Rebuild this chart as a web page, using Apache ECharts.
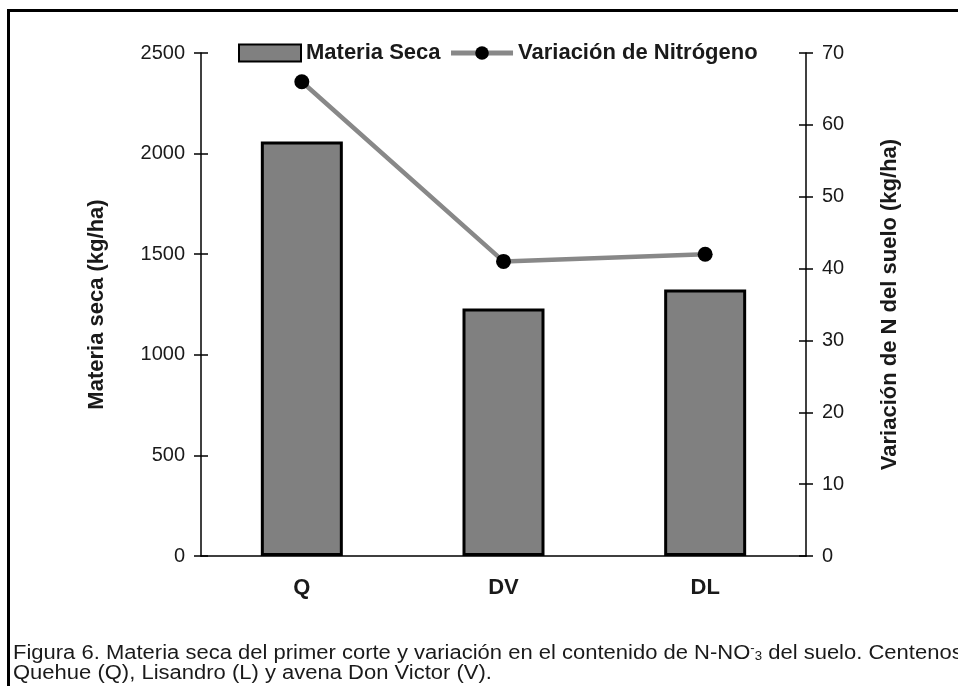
<!DOCTYPE html>
<html lang="es">
<head>
  <meta charset="utf-8">
  <title>Figura 6</title>
  <script src="https://cdn.jsdelivr.net/npm/echarts@6/dist/echarts.min.js"></script>
  <style>
    * { box-sizing: border-box; }
    html, body { margin: 0; padding: 0; background: #fff; }
    #chart { width: 958px; height: 686px; }
  </style>
</head>
<body>
  <div id="chart"></div>
  <script>
    // datos
    var categorias = ['Q', 'DV', 'DL'];
    var materiaSeca = [2060, 1230, 1325];      // kg/ha, eje izquierdo
    var variacionN = [66, 41, 42];            // kg/ha, eje derecho
    var ejeIzq = { min: 0, max: 2500, interval: 500 };
    var ejeDer = { min: 0, max: 70, interval: 10 };

    var FONT = '"Liberation Sans", Arial, sans-serif';
    var TXT = '#1a1a1a';

    // eje duplicado solo para las marcas hacia adentro (las marcas cruzan el eje)
    function ejeMarcasDentro(pos, rango) {
      return {
        type: 'value', position: pos, min: rango.min, max: rango.max, interval: rango.interval,
        axisLine: { show: false }, axisLabel: { show: false }, splitLine: { show: false },
        axisTick: { show: true, inside: true, length: 7, lineStyle: { color: '#000', width: 1.5 } }
      };
    }

    var chart = echarts.init(document.getElementById('chart'), null, { renderer: 'canvas' });
    chart.setOption({
      animation: false,
      backgroundColor: '#fff',
      textStyle: { fontFamily: FONT, color: TXT },
      grid: { left: 201, right: 152, top: 53, bottom: 130 },
      legend: {
        left: 233, top: 37,
        itemWidth: 62, itemHeight: 17, itemGap: 8,
        textStyle: { fontSize: 22, fontWeight: 'bold', color: TXT, fontFamily: FONT },
        data: [
          { name: 'Materia Seca', icon: 'rect' },
          { name: 'Variación de Nitrógeno', lineStyle: { width: 5, color: '#888' } }
        ]
      },
      xAxis: [{
        type: 'category', data: categorias,
        axisLine: { lineStyle: { color: '#000', width: 1.5 } },
        axisTick: { length: 7, lineStyle: { color: '#000', width: 1.5 } },
        axisLabel: { margin: 21, fontSize: 22, fontWeight: 'bold', color: TXT }
      }, {
        type: 'category', data: categorias, position: 'bottom',
        axisLine: { show: false }, axisLabel: { show: false },
        axisTick: { inside: true, length: 7, lineStyle: { color: '#000', width: 1.5 } }
      }],
      yAxis: [{
        type: 'value', position: 'left', min: ejeIzq.min, max: ejeIzq.max, interval: ejeIzq.interval,
        name: 'Materia seca (kg/ha)', nameLocation: 'middle', nameGap: 93,
        nameTextStyle: { fontSize: 22, fontWeight: 'bold', color: TXT },
        axisLine: { show: true, lineStyle: { color: '#000', width: 1.5 } },
        axisTick: { show: true, length: 7, lineStyle: { color: '#000', width: 1.5 } },
        axisLabel: { margin: 16, fontSize: 20, color: TXT, formatter: function (v) { return String(v); } },
        splitLine: { show: false }
      }, {
        type: 'value', position: 'right', min: ejeDer.min, max: ejeDer.max, interval: ejeDer.interval,
        name: 'Variación de N del suelo (kg/ha)', nameLocation: 'middle', nameGap: 73,
        nameTextStyle: { fontSize: 22, fontWeight: 'bold', color: TXT },
        axisLine: { show: true, lineStyle: { color: '#000', width: 1.5 } },
        axisTick: { show: true, length: 7, lineStyle: { color: '#000', width: 1.5 } },
        axisLabel: { margin: 16, fontSize: 20, color: TXT, formatter: function (v) { return String(v); } },
        splitLine: { show: false }
      },
      ejeMarcasDentro('left', ejeIzq),
      ejeMarcasDentro('right', ejeDer)],
      series: [{
        name: 'Materia Seca', type: 'bar', yAxisIndex: 0, barWidth: 82,
        data: materiaSeca,
        itemStyle: { color: '#808080', borderColor: '#000', borderWidth: 3 }
      }, {
        name: 'Variación de Nitrógeno', type: 'line', yAxisIndex: 1,
        data: variacionN,
        symbol: 'circle', symbolSize: 15,
        lineStyle: { color: '#888', width: 4.5 },
        itemStyle: { color: '#000' }
      }],
      graphic: [{
        // marco del recuadro de la figura
        type: 'polyline', silent: true,
        shape: { points: [[8.5, 686], [8.5, 10.5], [958, 10.5]] },
        style: { stroke: '#000', lineWidth: 3, fill: null }
      }, {
        type: 'text', x: 13, y: 643, scaleX: 1.1, silent: true,
        style: {
          text: 'Figura 6. Materia seca del primer corte y variación en el contenido de N-NO{sup|-}{sub|3} del suelo. Centenos',
          font: '20px ' + FONT, fill: TXT,
          rich: {
            sup: { fontSize: 12, verticalAlign: 'top', fill: TXT },
            sub: { fontSize: 12, verticalAlign: 'bottom', fill: TXT }
          }
        }
      }, {
        type: 'text', x: 13, y: 663, scaleX: 1.1, silent: true,
        style: { text: 'Quehue (Q), Lisandro (L) y avena Don Victor (V).', font: '20px ' + FONT, fill: TXT }
      }]
    });
  </script>
</body>
</html>
